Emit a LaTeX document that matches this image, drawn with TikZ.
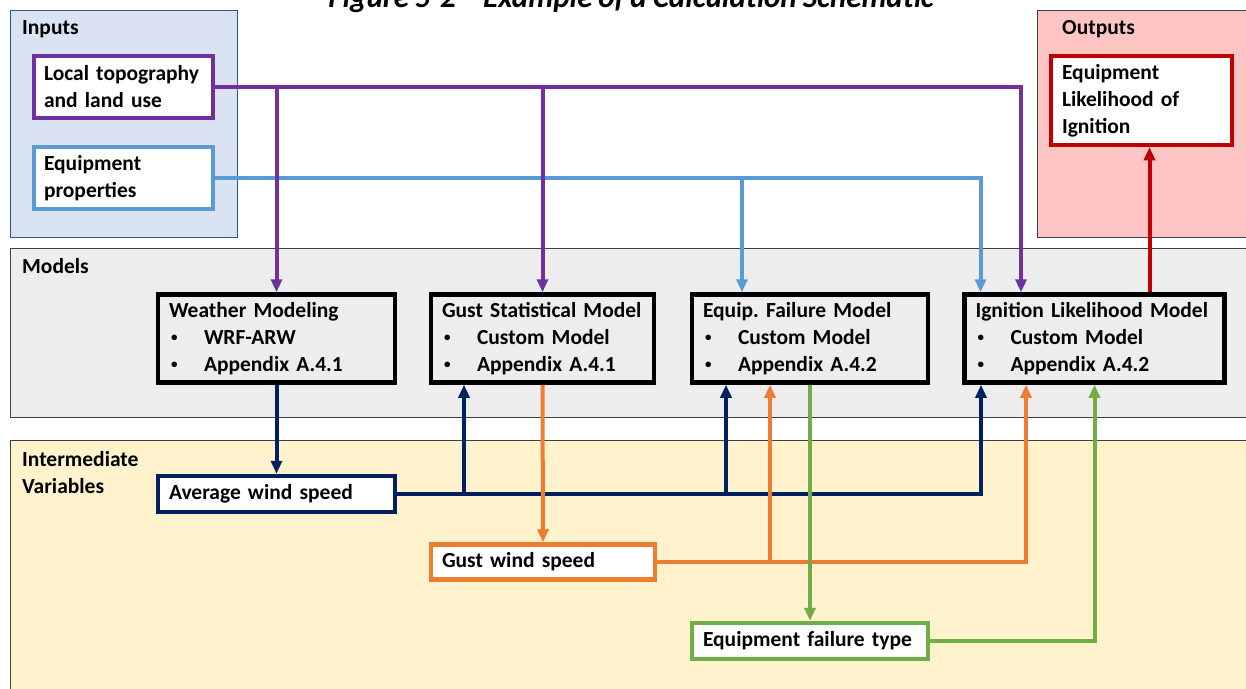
\documentclass[tikz,border=0pt]{standalone}
\usepackage{fontspec}
\setmainfont{Carlito}[WordSpace=0.85]
\usetikzlibrary{arrows.meta,calc}
\frenchspacing
\definecolor{cPurple}{HTML}{7030A0}
\definecolor{cBlue}{HTML}{5B9BD5}
\definecolor{cRed}{HTML}{C00000}
\definecolor{cNavy}{HTML}{002060}
\definecolor{cOrange}{HTML}{ED7D31}
\definecolor{cGreen}{HTML}{70AD47}
\definecolor{inFill}{HTML}{DAE3F3}
\definecolor{inBorder}{HTML}{2F5597}
\definecolor{outFill}{HTML}{FFC5C5}
\definecolor{modFill}{HTML}{EDEDED}
\definecolor{intFill}{HTML}{FFF2CC}
\newcommand{\bul}{\hspace*{2pt}\makebox[33pt][l]{\raisebox{2.5pt}{\fontsize{13}{13}\selectfont •}}}
\begin{document}
\begin{tikzpicture}[x=1pt,y=-1pt,
  panel/.style={line width=1pt,draw=black!75},
  plabel/.style={anchor=base west,inner sep=0pt,font=\fontsize{21.5}{27}\selectfont\bfseries},
  bx/.style={draw,line width=4.5pt,fill=white,inner xsep=0pt,inner ysep=0pt,align=left,
     font=\fontsize{21.5}{27}\selectfont\bfseries},
  mbx/.style={bx,fill=modFill},
  conn/.style={line width=4pt},
  arr/.style={-{Triangle[width=11pt,length=13pt]}}]
\useasboundingbox (0,0) rectangle (1246,688);
\clip (0,0) rectangle (1246,688);
% title (clipped at top)
\node[anchor=base,inner sep=0pt,font=\fontsize{31}{34}\selectfont\bfseries\itshape] (title) at (631,7) {Figure 5-2 – Example of a Calculation Schematic};
% panels
\draw[line width=1pt,draw=inBorder,fill=inFill] (10,10) rectangle (237,237);
\draw[panel,fill=outFill] (1037,10) rectangle (1252,237);
\draw[panel,fill=modFill] (10,248) rectangle (1252,417);
\draw[panel,fill=intFill] (10,440) rectangle (1252,700);
\node[plabel] (lin) at (22,34) {Inputs};
\node[plabel] (lout) at (1062,34) {Outputs};
\node[plabel] (lmod) at (22,273) {Models};
\node[plabel] (lint) at (22,466) {Intermediate};
\node[plabel] (lvar) at (22,493) {Variables};
% input / output boxes
\node[bx,draw=cPurple,minimum width=179pt,minimum height=62pt,text width=159pt] (topo) at (123.5,87) {Local topography\\and land use};
\node[bx,draw=cBlue,minimum width=179pt,minimum height=62pt,text width=159pt] (props) at (123.5,178) {Equipment\\properties};
\node[bx,draw=cRed,minimum width=181pt,minimum height=89pt,text width=159pt] (out) at (1141.5,100.5) {Equipment\\Likelihood of\\Ignition};
% model boxes
\node[mbx,minimum width=237pt,minimum height=88pt,text width=215pt] (weather) at (276.5,338.5) {Weather Modeling\\\bul WRF-ARW\\\bul Appendix A.4.1};
\node[mbx,minimum width=223pt,minimum height=88pt,text width=201pt] (gust) at (542.5,338.5) {Gust Statistical Model\\\bul Custom Model\\\bul Appendix A.4.1};
\node[mbx,minimum width=236pt,minimum height=88pt,text width=214pt] (fail) at (810,338.5) {Equip. Failure Model\\\bul Custom Model\\\bul Appendix A.4.2};
\node[mbx,minimum width=260pt,minimum height=88pt,text width=238pt] (ign) at (1094.5,338.5) {Ignition Likelihood Model\\\bul Custom Model\\\bul Appendix A.4.2};
% intermediate boxes
\node[bx,draw=cNavy,minimum width=237pt,minimum height=36pt,text width=215pt] (avg) at (276.5,494) {Average wind speed};
\node[bx,draw=cOrange,minimum width=224pt,minimum height=35pt,text width=202pt] (gws) at (543,562) {Gust wind speed};
\node[bx,draw=cGreen,minimum width=236pt,minimum height=36pt,text width=214pt] (eft) at (810,641) {Equipment failure type};
% helper coordinates
\coordinate (ignB) at ($(ign.north)+(-114,0)$);
\coordinate (ignP) at ($(ign.north)+(-73.5,0)$);
\coordinate (ignR) at ($(ign.north)+(55,0)$);
\coordinate (failB) at ($(fail.north)+(-68,0)$);
\coordinate (gustN) at ($(gust.south)+(-78.5,0)$);
\coordinate (failN) at ($(fail.south)+(-84,0)$);
\coordinate (ignN) at ($(ign.south)+(-113.5,0)$);
\coordinate (failO) at ($(fail.south)+(-40,0)$);
\coordinate (ignO) at ($(ign.south)+(-68.5,0)$);
% blue
\draw[conn,cBlue,arr] (props.east) -| (ignB);
\draw[conn,cBlue,arr] (failB |- props.east) -- (failB);
% purple
\draw[conn,cPurple,arr] (topo.east) -| (ignP);
\draw[conn,cPurple,arr] (weather.north |- topo.east) -- (weather.north);
\draw[conn,cPurple,arr] (gust.north |- topo.east) -- (gust.north);
% red
\draw[conn,cRed,arr] (ignR) -- (ignR |- out.south);
% navy
\draw[conn,cNavy,arr] (weather.south) -- (avg.north);
\draw[conn,cNavy,arr] (avg.east) -| (ignN);
\draw[conn,cNavy,arr] (gustN |- avg.east) -- (gustN);
\draw[conn,cNavy,arr] (failN |- avg.east) -- (failN);
% orange
\draw[conn,cOrange,arr] (gust.south) -- (gws.north);
\draw[conn,cOrange,arr] (gws.east) -| (ignO);
\draw[conn,cOrange,arr] (failO |- gws.east) -- (failO);
% green
\draw[conn,cGreen,arr] (fail.south) -- (eft.north);
\draw[conn,cGreen,arr] (eft.east) -| (ign.south);
\end{tikzpicture}
\end{document}
